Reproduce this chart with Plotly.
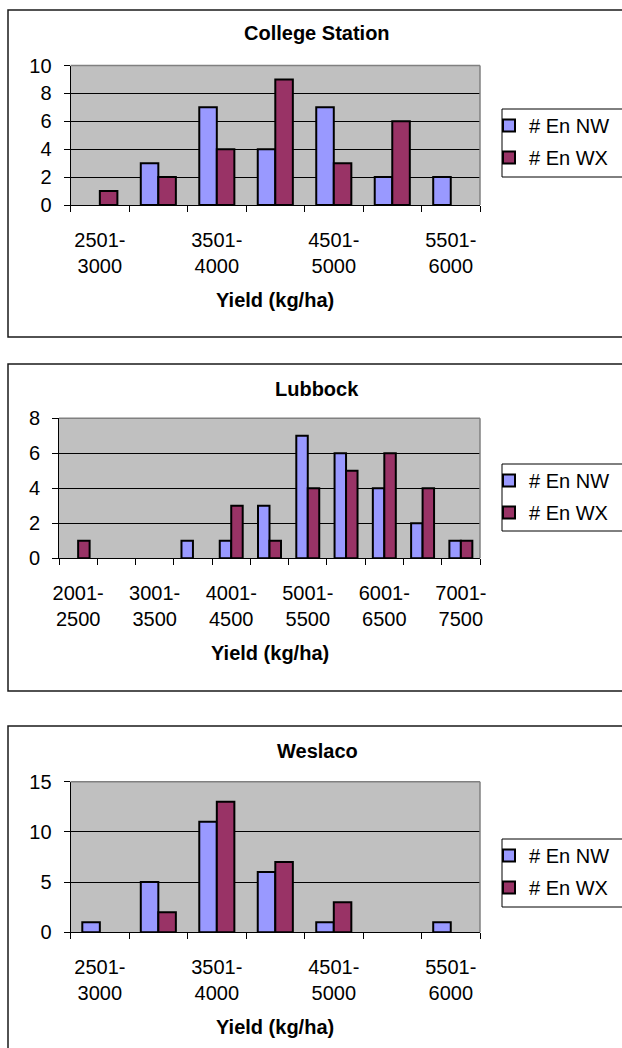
import plotly.graph_objects as go

# ---------------- data ----------------
cs_categories = ["2501-3000", "3001-3500", "3501-4000", "4001-4500",
                 "4501-5000", "5001-5500", "5501-6000"]
cs_nw = [0, 3, 7, 4, 7, 2, 2]
cs_wx = [1, 2, 4, 9, 3, 6, 0]

lb_categories = ["2001-2500", "2501-3000", "3001-3500", "3501-4000",
                 "4001-4500", "4501-5000", "5001-5500", "5501-6000",
                 "6001-6500", "6501-7000", "7001-7500"]
lb_nw = [0, 0, 0, 1, 1, 3, 7, 6, 4, 2, 1]
lb_wx = [1, 0, 0, 0, 3, 1, 4, 5, 6, 4, 1]

we_categories = ["2501-3000", "3001-3500", "3501-4000", "4001-4500",
                 "4501-5000", "5001-5500", "5501-6000"]
we_nw = [1, 5, 11, 6, 1, 0, 1]
we_wx = [0, 2, 13, 7, 3, 0, 0]

titles = ["College Station", "Lubbock", "Weslaco"]
series_names = ["# En NW", "# En WX"]
x_title = "Yield (kg/ha)"

# ---------------- layout helpers ----------------
W, H = 622, 1048
def px(x):
    return x / W
def py(y):
    return 1 - y / H

NW_COLOR = "#9999FF"
WX_COLOR = "#993366"
FONT = "Liberation Sans, Arial, sans-serif"

panels = [
    dict(cats=cs_categories, nw=cs_nw, wx=cs_wx, title=titles[0],
         plot=(70.6, 480, 65.5, 205), box=(8, 10, 337), title_y=33, xt_y=300,
         legend=(109, 177), yrange=[0, 10], dtick=2),
    dict(cats=lb_categories, nw=lb_nw, wx=lb_wx, title=titles[1],
         plot=(59, 480, 418.3, 558.3), box=(8, 364, 691), title_y=389, xt_y=653,
         legend=(464, 531), yrange=[0, 8], dtick=2),
    dict(cats=we_categories, nw=we_nw, wx=we_wx, title=titles[2],
         plot=(70.6, 480, 781.7, 932.3), box=(8, 726, 1100), title_y=751, xt_y=1027,
         legend=(839, 907), yrange=[0, 15], dtick=5),
]

fig = go.Figure()
shapes = []
annotations = []
layout_axes = {}

for i, p in enumerate(panels):
    n = i + 1
    sfx = "" if n == 1 else str(n)
    xa, ya = "x" + sfx, "y" + sfx
    lg = "legend" + sfx
    for name, grp, vals, col in ((series_names[0], "nw", p["nw"], NW_COLOR),
                                 (series_names[1], "wx", p["wx"], WX_COLOR)):
        fig.add_trace(go.Bar(
            x=p["cats"], y=[v if v else None for v in vals],
            name=name, xaxis=xa, yaxis=ya, legend=lg,
            legendgroup=grp + sfx,
            marker=dict(color=col, line=dict(color="black", width=2)),
        ))
    x0, x1, yt, yb = p["plot"]
    ticktext = [(c.replace("-", "-<br>") if k % 2 == 0 else "") for k, c in enumerate(p["cats"])]
    layout_axes["xaxis" + sfx] = dict(
        domain=[px(x0), px(x1)], anchor=ya, type="category",
        categoryorder="array", categoryarray=p["cats"], range=[-0.5, len(p["cats"]) - 0.5],
        tickmode="array", tickvals=p["cats"], ticktext=ticktext,
        tickson="boundaries", ticks="outside", ticklen=6, tickcolor="black",
        tickwidth=1, showline=True, linecolor="black", linewidth=1,
        showgrid=False, zeroline=False, tickangle=0,
        tickfont=dict(family=FONT, size=20, color="black"),
        ticklabelstandoff=17, fixedrange=True,
    )
    layout_axes["yaxis" + sfx] = dict(
        domain=[py(yb), py(yt)], anchor=xa, range=p["yrange"], dtick=p["dtick"],
        ticks="outside", ticklen=6, tickcolor="black", tickwidth=1,
        showline=True, linecolor="black", linewidth=1,
        showgrid=True, gridcolor="black", gridwidth=1, zeroline=False,
        tickfont=dict(family=FONT, size=20, color="black"),
        ticklabelstandoff=8, fixedrange=True,
    )
    # plot-area background
    shapes.append(dict(type="rect", xref="paper", yref="paper",
                       x0=px(x0), x1=px(x1), y0=py(yb), y1=py(yt),
                       fillcolor="#C0C0C0", line=dict(width=0), layer="below"))
    # grey top and right plot border
    shapes.append(dict(type="line", xref="paper", yref="paper",
                       x0=px(x0), x1=px(x1), y0=py(yt), y1=py(yt),
                       line=dict(color="#808080", width=1.5), layer="above"))
    shapes.append(dict(type="line", xref="paper", yref="paper",
                       x0=px(x1), x1=px(x1), y0=py(yb), y1=py(yt),
                       line=dict(color="#808080", width=1.5), layer="above"))
    # chart border
    bx, bt, bb = p["box"]
    shapes.append(dict(type="rect", xref="paper", yref="paper",
                       x0=px(bx), x1=px(720), y0=py(bb), y1=py(bt),
                       line=dict(color="#1a1a1a", width=1.5), fillcolor="rgba(0,0,0,0)",
                       layer="below"))
    # legend box
    lt, lb = p["legend"]
    shapes.append(dict(type="rect", xref="paper", yref="paper",
                       x0=px(502), x1=px(720), y0=py(lb), y1=py(lt),
                       line=dict(color="black", width=1), fillcolor="white",
                       layer="below"))
    layout_axes[lg] = dict(
        x=px(489), xanchor="left", y=py(lt - 3), yanchor="top",
        bgcolor="rgba(0,0,0,0)", borderwidth=0,
        font=dict(family=FONT, size=20, color="black"),
        tracegroupgap=3, itemclick=False, itemdoubleclick=False,
    )
    annotations.append(dict(text="<b>" + p["title"] + "</b>", xref="paper", yref="paper",
                            x=px(317), y=py(p["title_y"]), xanchor="center", yanchor="middle",
                            showarrow=False, font=dict(family=FONT, size=20, color="black")))
    annotations.append(dict(text="<b>" + x_title + "</b>", xref="paper", yref="paper",
                            x=px((x0 + x1) / 2), y=py(p["xt_y"]), xanchor="center", yanchor="middle",
                            showarrow=False, font=dict(family=FONT, size=20, color="black")))

fig.update_layout(
    width=W, height=H,
    margin=dict(l=0, r=0, t=0, b=0, autoexpand=False),
    paper_bgcolor="white", plot_bgcolor="rgba(0,0,0,0)",
    barmode="group", bargap=0.4, bargroupgap=0,
    shapes=shapes, annotations=annotations,
    font=dict(family=FONT, size=20, color="black"),
    showlegend=True, hovermode=False,
    **layout_axes,
)

fig.write_html(
    "out.html",
    config={"displayModeBar": False, "staticPlot": False},
    post_script="document.body.style.margin='0';document.body.style.overflow='hidden';",
)
